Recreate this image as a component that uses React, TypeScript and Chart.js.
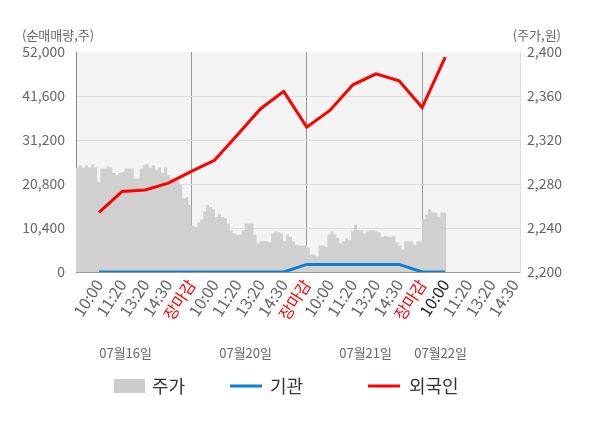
import { useEffect, useRef } from 'react'
import Chart from 'chart.js/auto'

const FONT = '"Noto Sans CJK KR", "Noto Sans", sans-serif'

// x tick labels, one per tick (0..18)
const xLabels = [
  '10:00', '11:20', '13:20', '14:30', '장마감',
  '10:00', '11:20', '13:20', '14:30', '장마감',
  '10:00', '11:20', '13:20', '14:30', '장마감',
  '10:00', '11:20', '13:20', '14:30',
]
const separators = [4, 9, 14]

const dateLabels = ['07월16일', '07월20일', '07월21일', '07월22일']
const datePos = [1.15, 6.35, 11.55, 14.8]

// 외국인 / 기관 cumulative net buying (shares), one per tick
const foreign = [
  14100, 19050, 19400, 21000, 23800, 26400, 32450, 38600, 42700, 34250,
  38200, 44250, 46850, 45200, 38900, 50800,
]
const institution = [0, 0, 0, 0, 0, 0, 0, 0, 0, 1800, 1800, 1800, 1800, 1800, 0, 0]

// 주가 (won), sampled through each trading day
const priceDay1 = [
  2295, 2297, 2295, 2297, 2295, 2298, 2295, 2282, 2294, 2294, 2296, 2295, 2290,
  2288, 2290, 2291, 2294, 2294, 2294, 2285, 2285, 2294, 2297, 2298, 2295, 2297,
  2293, 2295, 2290, 2295, 2288, 2285, 2285, 2282, 2279, 2267, 2268, 2261,
]
const priceDay2 = [
  2242, 2241, 2245, 2248, 2255, 2261, 2259, 2257, 2250, 2253, 2250, 2249, 2244,
  2238, 2235, 2234, 2234, 2238, 2244, 2244, 2244, 2234, 2226, 2228, 2228, 2228,
  2227, 2235, 2237, 2236, 2235, 2228, 2234, 2232, 2228, 2225, 2224, 2224, 2224,
]
const priceDay3 = [
  2222, 2216, 2216, 2214, 2224, 2224, 2223, 2234, 2237, 2234, 2231, 2226, 2228,
  2231, 2229, 2237, 2243, 2238, 2238, 2235, 2237, 2238, 2238, 2237, 2236, 2232,
  2233, 2232, 2232, 2233, 2227, 2224, 2220, 2228, 2228, 2228, 2225, 2228, 2228,
]
const priceDay4 = [2248, 2252, 2257, 2254, 2254, 2250, 2254, 2254]

const priceDays = [priceDay1, priceDay2, priceDay3, priceDay4]

function pricePoints() {
  const pts: { x: number; y: number }[] = []
  priceDays.forEach((arr, d) => {
    const start = d * 5 - 1
    const step = d < 3 ? 5 / arr.length : 5 / 38
    arr.forEach((v, i) => pts.push({ x: start + i * step, y: v }))
    if (d === priceDays.length - 1) {
      pts.push({ x: start + arr.length * step, y: arr[arr.length - 1] })
    }
  })
  return pts
}

const fmt = (v: number | string) => Number(v).toLocaleString('en-US')

const decor = {
  id: 'decor',
  beforeDraw(chart: any) {
    const { ctx, chartArea: a } = chart
    ctx.save()
    ctx.fillStyle = '#f4f4f4'
    ctx.fillRect(a.left, a.top, a.right - a.left, a.bottom - a.top)
    ctx.restore()
  },
  afterDraw(chart: any) {
    const { ctx } = chart
    const xs = chart.scales.x
    ctx.save()
    ctx.textBaseline = 'middle'
    ctx.fillStyle = '#666'
    ctx.font = `13px ${FONT}`
    ctx.textAlign = 'left'
    ctx.fillText('(순매매량,주)', 22, 35)
    ctx.textAlign = 'right'
    ctx.fillText('(주가,원)', 561, 35)

    ctx.textAlign = 'center'
    dateLabels.forEach((t, i) => ctx.fillText(t, xs.getPixelForValue(datePos[i]), 353))

    // legend
    const ly = 386
    ctx.font = `18px ${FONT}`
    ctx.textAlign = 'left'
    ctx.fillStyle = '#ccc'
    ctx.fillRect(114, 379, 31, 14)
    ctx.lineWidth = 3
    ctx.strokeStyle = '#0b7fd0'
    ctx.beginPath()
    ctx.moveTo(230, ly)
    ctx.lineTo(262, ly)
    ctx.stroke()
    ctx.strokeStyle = '#ff0000'
    ctx.beginPath()
    ctx.moveTo(368, ly)
    ctx.lineTo(400, ly)
    ctx.stroke()
    ctx.fillStyle = '#333'
    ctx.fillText('주가', 152, ly)
    ctx.fillText('기관', 270, ly)
    ctx.fillText('외국인', 409, ly)
    ctx.restore()
  },
}

export default function App() {
  const ref = useRef<HTMLCanvasElement>(null)

  useEffect(() => {
    document.body.style.margin = '0'
    if (!ref.current) return

    const chart = new Chart(ref.current, {
      type: 'line',
      data: {
        datasets: [
          {
            label: '주가',
            data: pricePoints(),
            yAxisID: 'y1',
            stepped: true,
            fill: 'start',
            backgroundColor: '#d0d0d0',
            borderWidth: 0,
            pointRadius: 0,
            order: 3,
          },
          {
            label: '기관',
            data: institution.map((v, i) => ({ x: i, y: v })),
            yAxisID: 'y',
            borderColor: '#0b7fd0',
            borderWidth: 3,
            pointRadius: 0,
            fill: false,
            order: 2,
          },
          {
            label: '외국인',
            data: foreign.map((v, i) => ({ x: i, y: v })),
            yAxisID: 'y',
            borderColor: '#ff0000',
            borderWidth: 3,
            pointRadius: 0,
            fill: false,
            order: 1,
          },
        ],
      },
      options: {
        responsive: false,
        animation: false,
        layout: { padding: { left: 0, right: 0, top: 52, bottom: 0 } },
        plugins: {
          legend: { display: false },
          tooltip: { enabled: false },
        },
        scales: {
          x: {
            type: 'linear',
            min: -1,
            max: 18.24,
            afterBuildTicks: (scale: any) => {
              scale.ticks = xLabels.map((_, i) => ({ value: i }))
            },
            afterFit: (scale: any) => {
              scale.height = 156
            },
            ticks: {
              autoSkip: false,
              minRotation: 57,
              maxRotation: 57,
              padding: 4,
              font: { family: FONT, size: 16 },
              color: (c: any) =>
                xLabels[c.index] === '장마감' ? '#ff0000' : c.index === 15 ? '#222' : '#666',
              callback: (v: any) => xLabels[v] ?? '',
            },
            grid: {
              drawTicks: false,
              color: (c: any) =>
                c.tick && separators.includes(c.tick.value) ? '#999' : 'rgba(0,0,0,0)',
            },
            border: { color: '#999' },
          },
          y: {
            position: 'left',
            min: 0,
            max: 52000,
            afterFit: (scale: any) => {
              scale.width = 76
            },
            ticks: {
              stepSize: 10400,
              padding: 11,
              font: { family: FONT, size: 14 },
              color: '#666',
              callback: fmt,
            },
            grid: {
              drawTicks: false,
              color: (c: any) => (c.tick && c.tick.value === 52000 ? 'rgba(0,0,0,0)' : '#ddd'),
            },
            border: { color: '#888' },
          },
          y1: {
            position: 'right',
            min: 2200,
            max: 2400,
            afterFit: (scale: any) => {
              scale.width = 80
            },
            ticks: {
              stepSize: 40,
              padding: 7,
              font: { family: FONT, size: 14 },
              color: '#666',
              callback: fmt,
            },
            grid: { drawOnChartArea: false, drawTicks: false },
            border: { color: '#ddd' },
          },
        },
      },
      plugins: [decor],
    })

    return () => chart.destroy()
  }, [])

  return (
    <div style={{ width: 600, height: 428 }}>
      <canvas ref={ref} width={600} height={428} />
    </div>
  )
}
